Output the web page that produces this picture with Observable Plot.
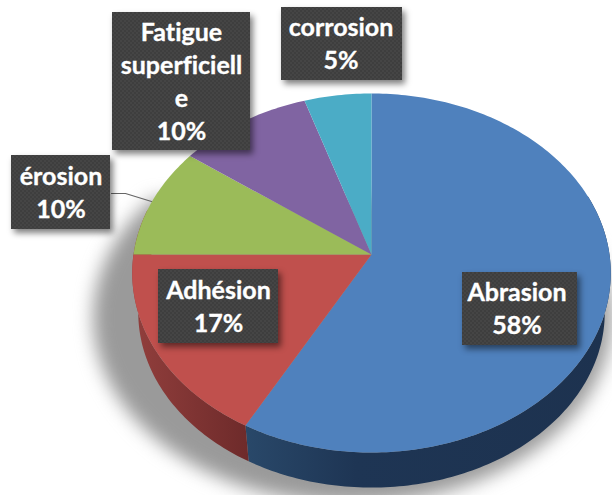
<!DOCTYPE html>
<html lang="fr">
<head>
<meta charset="utf-8">
<style>
  html, body { margin: 0; padding: 0; background: #fff; }
  svg { display: block; }
  text { font-variant-ligatures: none; font-feature-settings: "liga" 0; }
</style>
<script src="https://cdn.jsdelivr.net/npm/d3@7"></script>
<script src="https://cdn.jsdelivr.net/npm/@observablehq/plot@0.6"></script>
</head>
<body>
<script>
// Modes d'usure, in clockwise order from twelve o'clock
const names = ["Abrasion", "Adhésion", "érosion", "Fatigue superficielle", "corrosion"];
const values = [58, 17, 10, 10, 5];
const labelLines = [["Abrasion"], ["Adhésion"], ["érosion"], ["Fatigue", "superficiell", "e"], ["corrosion"]];
const topColors = ["#4f81bd", "#c0504d", "#9bbb59", "#8064a2", "#4bacc6"];

// Label box edges [left, right, top, bottom], one per category
const boxEdges = [[462, 577, 272, 345], [158, 278, 269, 343], [11, 110, 155, 229], [112, 250, 12, 150], [281, 402, 7, 80]];
const labelNudge = [-3, 0, 0, 0, -1];
const leaderPath = [[111, 193], [125, 193], [151, 201]];

// Perspective of the tilted disc: a unit circle pushed through a projective map
const disc = {cx: 371, cy: 254, rx: 238, ry: 177.6, p: 0.103};
const lowerDisc = {...disc, cy: 294, rx: 232, ry: 173.2};
const shadowDisc = {...disc, cx: 352, cy: 298, rx: 258, ry: 184};
const DEG = Math.PI / 180;

function rimPoint(d, angle) {
  const u = Math.sin(angle), v = Math.cos(angle), w = 1 + d.p * v;
  return [d.cx + d.rx * u / w, d.cy - d.ry * v / w];
}
function arc(d, a0, a1) {
  const n = Math.max(2, Math.ceil(Math.abs(a1 - a0) / DEG));
  return d3.range(n + 1).map(i => rimPoint(d, a0 + (a1 - a0) * i / n));
}

const arcs = d3.pie().sort(null).value((d, i) => values[i])(names);

const faceRows = arcs.flatMap((a, i) =>
  [[disc.cx, disc.cy], ...arc(disc, a.startAngle, a.endAngle)].map(([x, y]) => ({x, y, name: names[i]}))
);

// Side wall between the upper and lower rims over an angular range
const wall = (a0, a1) =>
  [...arc(disc, a0, a1), ...arc(lowerDisc, a1, a0)].map(([x, y]) => ({x, y}));
const blueWall = wall(70 * DEG, arcs[0].endAngle);
const redWall = wall(arcs[1].startAngle, 285 * DEG);
const shadowOutline = arc(shadowDisc, 55 * DEG, 305 * DEG).map(([x, y]) => ({x, y}));

const boxes = boxEdges.map(([x1, x2, y1, y2], i) => ({x1, x2, y1, y2, name: names[i]}));
const labels = boxes.map((b, i) => ({
  x: (b.x1 + b.x2) / 2 + labelNudge[i],
  y: (b.y1 + b.y2) / 2 - 2,
  text: [...labelLines[i], `${values[i]}%`].join("\n")
}));

// Gradients for the shaded walls and the fine weave of the label boxes
function defsMark() {
  const defs = d3.create("svg:defs");
  const gradient = (id, x1, x2, stops) => {
    const g = defs.append("linearGradient").attr("id", id)
      .attr("gradientUnits", "userSpaceOnUse")
      .attr("x1", x1).attr("x2", x2).attr("y1", 0).attr("y2", 0);
    stops.forEach(([o, c]) => g.append("stop").attr("offset", o).attr("stop-color", c));
  };
  gradient("wallBlue", 246, 612, [[0, "#294869"], [0.3, "#1e3554"], [1, "#1d324f"]]);
  gradient("wallRed", 140, 250, [[0, "#8f3d3b"], [1, "#6d2a2a"]]);
  const weave = defs.append("pattern").attr("id", "weave")
    .attr("patternUnits", "userSpaceOnUse").attr("width", 4).attr("height", 4);
  weave.append("rect").attr("width", 4).attr("height", 4).attr("fill", "#3e3e3e");
  weave.append("rect").attr("width", 2).attr("height", 2).attr("fill", "#454545");
  weave.append("rect").attr("x", 2).attr("y", 2).attr("width", 2).attr("height", 2).attr("fill", "#454545");
  return defs.node();
}

const chart = Plot.plot({
  width: 612,
  height: 495,
  margin: 0,
  x: {domain: [0, 612], range: [0, 612], axis: null},
  y: {domain: [0, 495], range: [0, 495], axis: null},
  color: {domain: names, range: topColors},
  style: {background: "#fff"},
  marks: [
    defsMark,
    Plot.line(shadowOutline, {x: "x", y: "y", fill: "#9a9a9a", stroke: "none", imageFilter: "blur(9px)"}),
    Plot.line(blueWall, {x: "x", y: "y", fill: "url(#wallBlue)", stroke: "none"}),
    Plot.line(redWall, {x: "x", y: "y", fill: "url(#wallRed)", stroke: "none"}),
    Plot.line(faceRows, {x: "x", y: "y", z: "name", fill: "name", stroke: "none"}),
    Plot.line(leaderPath, {x: "0", y: "1", stroke: "#666666", strokeWidth: 1.2}),
    Plot.rect(boxes, {
      x1: d => d.x1 + 3, x2: d => d.x2 + 3, y1: d => d.y1 + 4, y2: d => d.y2 + 4,
      fill: "#000", fillOpacity: 0.5, imageFilter: "blur(3px)"
    }),
    Plot.rect(boxes, {x1: "x1", x2: "x2", y1: "y1", y2: "y2", fill: "url(#weave)"}),
    Plot.text(labels, {
      x: "x", y: "y", text: "text",
      fill: "#fff", stroke: "#fff", strokeWidth: 0.35,
      fontFamily: "Lato", fontWeight: 700, fontSize: 25, lineHeight: 1.32,
      textAnchor: "middle"
    })
  ]
});
document.body.appendChild(chart);
</script>
</body>
</html>
